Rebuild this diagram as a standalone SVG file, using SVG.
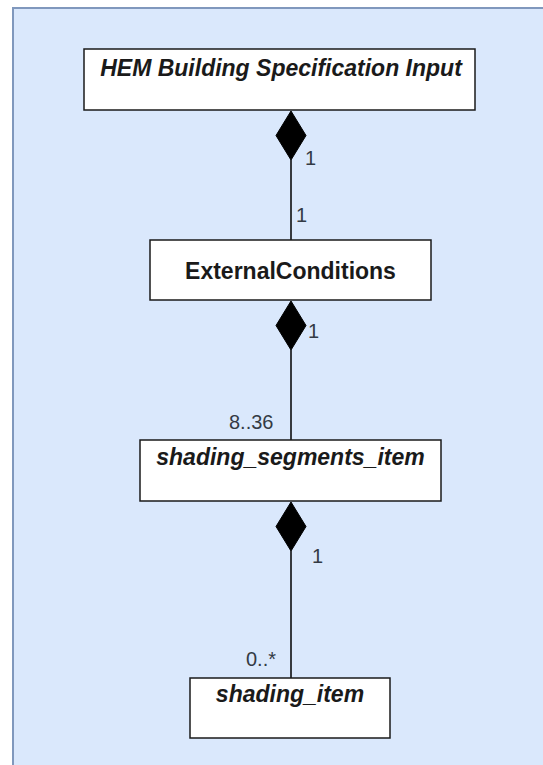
<svg xmlns="http://www.w3.org/2000/svg" width="543" height="765" viewBox="0 0 543 765">
  <style>
    .box { fill: #ffffff; stroke: #1a1a1a; stroke-width: 1.5; }
    .title { font-family: "Liberation Sans", Arial, sans-serif; font-size: 23px; font-weight: bold; fill: #1a1a1a; text-anchor: middle; }
    .italic { font-style: italic; }
    .mult { font-family: "Liberation Sans", Arial, sans-serif; font-size: 20px; fill: #333a44; }
    .link { stroke: #000000; stroke-width: 1.5; fill: none; }
    .diamond { fill: #000000; stroke: #000000; stroke-width: 1; }
  </style>

  <!-- page and container panel -->
  <rect x="0" y="0" width="543" height="765" fill="#ffffff"/>
  <rect x="13" y="8" width="540" height="770" fill="#dae8fc" stroke="#8098bd" stroke-width="2"/>

  <!-- composition connectors -->
  <g id="connectors">
    <line class="link" x1="291" y1="160" x2="291" y2="240"/>
    <path class="diamond" d="M291 111 L306 135.5 L291 160 L276 135.5 Z"/>
    <text class="mult" x="305" y="165">1</text>
    <text class="mult" x="296" y="222">1</text>

    <line class="link" x1="291" y1="350" x2="291" y2="440"/>
    <path class="diamond" d="M291 301 L306 325.5 L291 350 L276 325.5 Z"/>
    <text class="mult" x="308" y="338">1</text>
    <text class="mult" x="229" y="429">8..36</text>

    <line class="link" x1="291" y1="551" x2="291" y2="678"/>
    <path class="diamond" d="M291 502 L306 526.5 L291 551 L276 526.5 Z"/>
    <text class="mult" x="312" y="563">1</text>
    <text class="mult" x="246" y="666">0..*</text>
  </g>

  <g id="hem-building-specification-input">
    <rect class="box" x="84" y="49" width="391" height="61"/>
    <text class="title italic" x="281" y="76">HEM Building Specification Input</text>
  </g>

  <g id="external-conditions">
    <rect class="box" x="150" y="240" width="281" height="60"/>
    <text class="title" x="290.5" y="279">ExternalConditions</text>
  </g>

  <g id="shading-segments-item">
    <rect class="box" x="140" y="440" width="301" height="61"/>
    <text class="title italic" x="290.5" y="465">shading_segments_item</text>
  </g>

  <g id="shading-item">
    <rect class="box" x="190" y="678" width="200" height="60"/>
    <text class="title italic" x="290" y="702">shading_item</text>
  </g>
</svg>
